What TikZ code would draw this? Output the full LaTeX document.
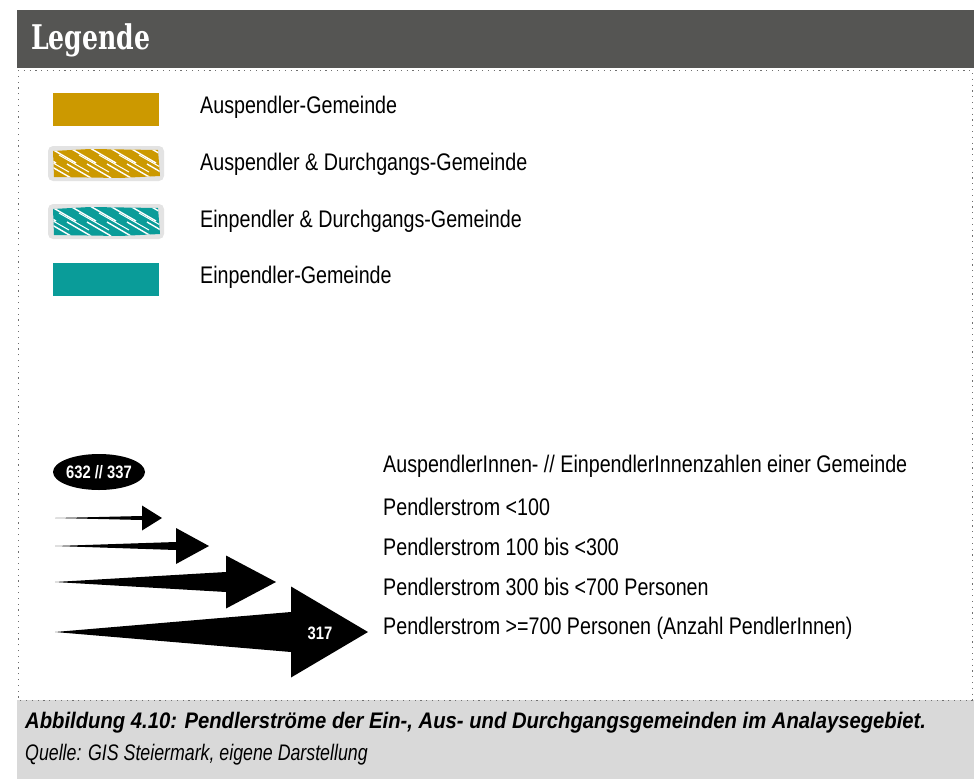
\documentclass[tikz,border=0pt]{standalone}
\usepackage{fontspec}
\setmainfont{Liberation Sans}[FakeStretch=0.82]
\newfontfamily\titlefont{DejaVu Serif}[FakeStretch=0.74]
\newfontfamily\fussfont{Liberation Sans}[FakeStretch=0.9]
\newfontfamily\quellfont{Liberation Sans}[FakeStretch=0.79]
\usetikzlibrary{positioning,shapes.geometric}
\definecolor{kopfgrau}{HTML}{555553}
\definecolor{fussgrau}{HTML}{D9D9D9}
\definecolor{rahmengrau}{HTML}{707070}
\definecolor{randgrau}{HTML}{E3E3E3}
\definecolor{auspendler}{HTML}{CC9900}
\definecolor{einpendler}{HTML}{0A9C99}
% schraffiertes Feld: #1 = obere Kante, #2 = Farbe
\newcommand{\schraffur}[2]{%
  \fill[randgrau, rounded corners=5pt] (48,#1-1) rectangle (164,#1+34);
  \begin{scope}
    \clip (53,#1+4) -- (90,#1+2) -- (158,#1+3) -- (160,#1+29) -- (120,#1+31) -- (54,#1+30) -- cycle;
    \fill[#2] (50,#1) rectangle (162,#1+33);
    \foreach \s in {30,50,...,170} {
      \draw[white, line width=1.4pt] (\s,#1+1) -- ++(26,15);
      \draw[white, line width=1pt] (\s-11,#1+8) -- ++(30,17);
      \draw[white, line width=1.4pt] (\s-3,#1+17) -- ++(24,14);
    }
  \end{scope}
}
% Pendlerpfeil: #1 = y, #2 = Spitzenansatz, #3 = halbe Schaftbreite, #4 = halbe Spitzenbreite, #5 = Spitze
\newcommand{\pfeil}[5]{%
  \fill (55,#1) -- (#2,#1-#3) -- (#2,#1-#4) -- (#5,#1) -- (#2,#1+#4) -- (#2,#1+#3) -- cycle;
}

\begin{document}
\begin{tikzpicture}[
  x=1pt, y=-1pt,
  feld/.style={minimum width=106pt, minimum height=33pt, inner sep=0pt},
  eintrag/.style={anchor=west, inner sep=0pt, font=\fontsize{24}{28}\selectfont},
  zahl/.style={text=white, font=\bfseries\fontsize{18}{20}\selectfont, inner sep=0pt}
]
\useasboundingbox (0,0) rectangle (974,779);

% Kopf und Fuss
\fill[kopfgrau] (17,10) rectangle (974,68);
\node[anchor=west, text=white, inner sep=0pt, font=\titlefont\bfseries\fontsize{34}{40}\selectfont] (titel) at (31,40) {Legende};
\fill[fussgrau] (17,700) rectangle (974,779);
\draw[rahmengrau, line width=1pt, dash pattern=on 1.2pt off 4.6pt] (18,70) -- (972,70) -- (972,700) -- (18,700) -- cycle;

% Gemeindetypen
\node[feld, fill=auspendler] (aus) at (105.5,109.5) {};
\schraffur{147}{auspendler}
\schraffur{205}{einpendler}
\node[feld, fill=einpendler] (ein) at (106,279) {};

\node[eintrag] (ausText) at (200,107) {Auspendler-Gemeinde};
\node[eintrag] (ausDurchText) at (200,164) {Auspendler \& Durchgangs-Gemeinde};
\node[eintrag] (einDurchText) at (200,221) {Einpendler \& Durchgangs-Gemeinde};
\node[eintrag] (einText) at (200,277) {Einpendler-Gemeinde};

% Pendlerstroeme
\node[ellipse, fill=black, minimum width=92pt, minimum height=36pt, inner sep=0pt] (gemeinde) at (99,472) {};
\node[zahl] (gemeindeZahl) at (gemeinde) {632 // 337};

\pfeil{518}{142}{2}{12.5}{162}
\pfeil{546}{176}{4}{18}{209}
\pfeil{582}{226}{10}{26.5}{276}
\pfeil{632}{291}{20}{45.5}{368}
\node[zahl] (stromZahl) at (320,633) {317};

\node[eintrag] (zahlText) at (383,466) {AuspendlerInnen- // EinpendlerInnenzahlen einer Gemeinde};
\node[eintrag] (stromA) at (383,507) {Pendlerstrom <100};
\node[eintrag] (stromB) at (383,547) {Pendlerstrom 100 bis <300};
\node[eintrag] (stromC) at (383,587) {Pendlerstrom 300 bis <700 Personen};
\node[eintrag] (stromD) at (383,628) {Pendlerstrom >=700 Personen (Anzahl PendlerInnen)};

% Bildunterschrift
\node[anchor=west, inner sep=0pt, font=\fussfont\bfseries\itshape\fontsize{22.5}{26}\selectfont] (abbildung) at (25,723) {Abbildung 4.10: Pendlerströme der Ein-, Aus- und Durchgangsgemeinden im Analaysegebiet.};
\node[anchor=west, inner sep=0pt, font=\quellfont\itshape\fontsize{22.5}{26}\selectfont] (quelle) at (25,755) {Quelle: GIS Steiermark, eigene Darstellung};
\end{tikzpicture}
\end{document}
